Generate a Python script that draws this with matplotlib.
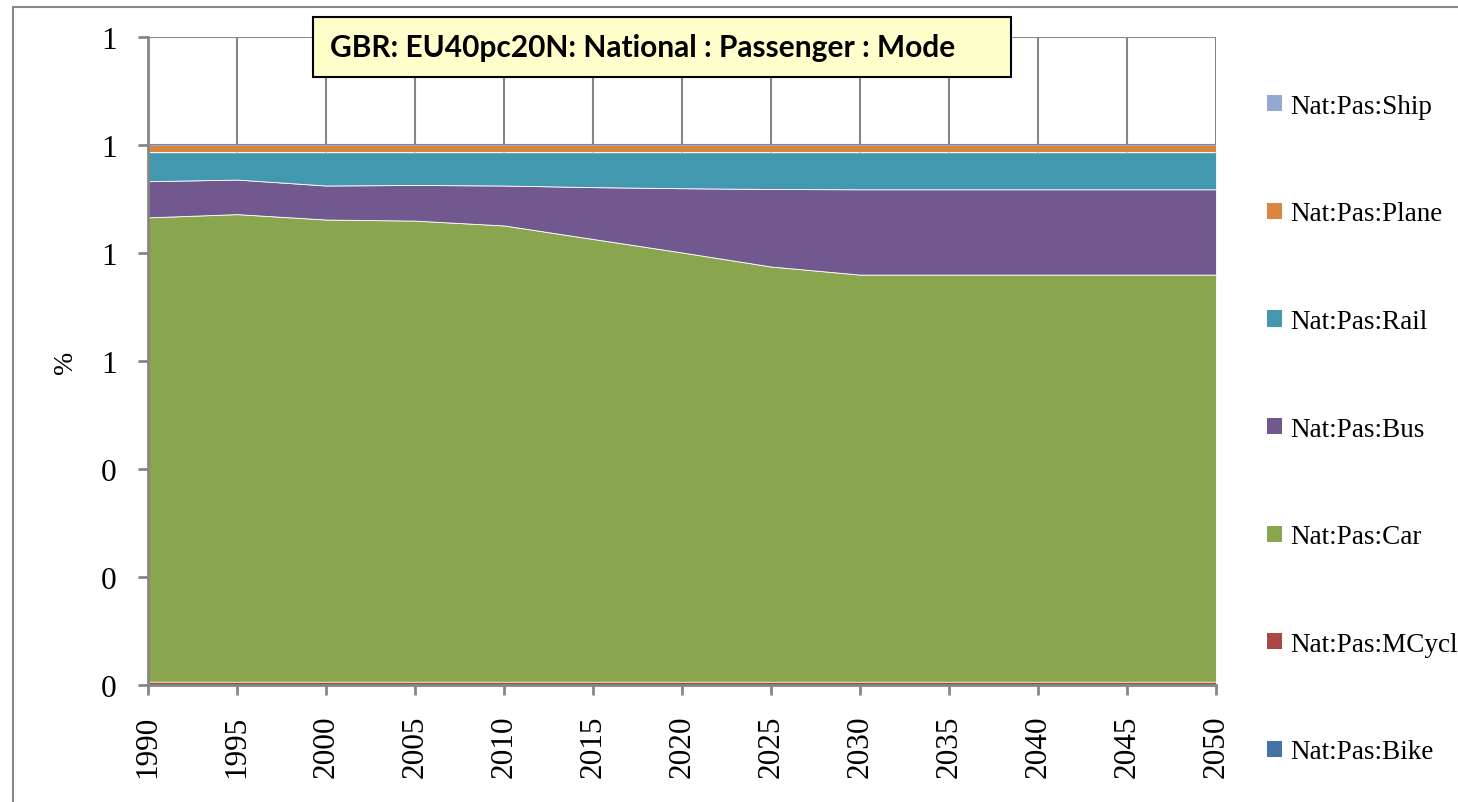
import matplotlib
matplotlib.use("Agg")
import matplotlib.pyplot as plt
from matplotlib.patches import Rectangle, Patch
from matplotlib.ticker import MultipleLocator, FormatStrFormatter

# Modal shares of national passenger transport, GBR scenario EU40pc20N
years = [1990, 1995, 2000, 2005, 2010, 2015, 2020, 2025, 2030, 2035, 2040, 2045, 2050]

bike = [0.001] * 13
mcycle = [0.005] * 13
car = [0.860, 0.866, 0.856, 0.854, 0.845, 0.820, 0.795, 0.769, 0.754, 0.754, 0.754, 0.754, 0.754]
bus = [0.067, 0.064, 0.063, 0.066, 0.074, 0.096, 0.119, 0.1435, 0.158, 0.158, 0.158, 0.158, 0.158]
rail = [0.0535, 0.0505, 0.0615, 0.0605, 0.0615, 0.0645, 0.0665, 0.068, 0.0685, 0.0685, 0.0685, 0.0685, 0.0685]
plane = [0.0115] * 13
ship = [0.002] * 13

labels = ['Nat:Pas:Bike', 'Nat:Pas:MCycle', 'Nat:Pas:Car', 'Nat:Pas:Bus',
          'Nat:Pas:Rail', 'Nat:Pas:Plane', 'Nat:Pas:Ship']
colors = ['#4572A7', '#AA4643', '#89A54E', '#71588F', '#4198AF', '#DB843D', '#93A9CF']

W, H = 1458, 803
fig = plt.figure(figsize=(W / 100, H / 100), dpi=100)

# outer chart border
fig.patches.append(Rectangle((13 / W, -0.1), 1.2, (H - 8) / H + 0.1, transform=fig.transFigure,
                             fill=False, edgecolor='#888888', linewidth=1.5))

ax = fig.add_axes([148 / W, 1 - 686 / H, (1216 - 148) / W, (686 - 38) / H])
polys = ax.stackplot(years, bike, mcycle, car, bus, rail, plane, ship,
                     colors=colors, edgecolor='white', linewidth=0.6, zorder=2)
# thin bottom bands carry no white outline
for p in polys[:2] + polys[5:]:
    p.set_edgecolor('none')

ax.set_xlim(1990, 2050)
ax.set_ylim(0, 1.2)
ax.set_xticks(years)
ax.yaxis.set_major_locator(MultipleLocator(0.2))
ax.yaxis.set_major_formatter(FormatStrFormatter('%.0f'))
ax.grid(True, color='#868686', linewidth=1.5, zorder=0)
ax.set_axisbelow(True)

for s in ['top', 'right']:
    ax.spines[s].set_visible(False)
for s in ['left', 'bottom']:
    ax.spines[s].set_color('#868686')
    ax.spines[s].set_linewidth(2)

ax.tick_params(axis='both', colors='#868686', width=2, length=7.5)
ax.tick_params(axis='y', pad=15)
ax.tick_params(axis='x', pad=14)
for t in ax.get_xticklabels() + ax.get_yticklabels():
    t.set_fontfamily('Liberation Serif')
    t.set_fontsize(22.5)
    t.set_color('black')
for t in ax.get_xticklabels():
    t.set_rotation(90)

ax.set_ylabel('%', fontfamily='Liberation Serif', fontsize=20, labelpad=17)

# legend, top entry first
handles = [Patch(facecolor=c, edgecolor='none') for c in colors][::-1]
fig.legend(handles, labels[::-1], loc='upper left', bbox_to_anchor=(1256 / W, 1 - 84 / H),
           frameon=False, prop={'family': 'Liberation Serif', 'size': 19.5},
           handlelength=0.55, handleheight=0.55, handletextpad=0.3,
           labelspacing=3.05, borderaxespad=0)

# title box
fig.text(330 / W, 1 - 48 / H, 'GBR: EU40pc20N: National : Passenger : Mode',
         fontfamily='Lato', fontweight='bold', fontsize=21.5, va='center', ha='left')
fig.patches.append(Rectangle((313 / W, 1 - 78 / H), (1011 - 313) / W, 60 / H,
                             transform=fig.transFigure, facecolor='#FFFFCC',
                             edgecolor='black', linewidth=1.5, zorder=5))
fig.texts[-1].set_zorder(6)

fig.savefig('out.png', dpi=100)
